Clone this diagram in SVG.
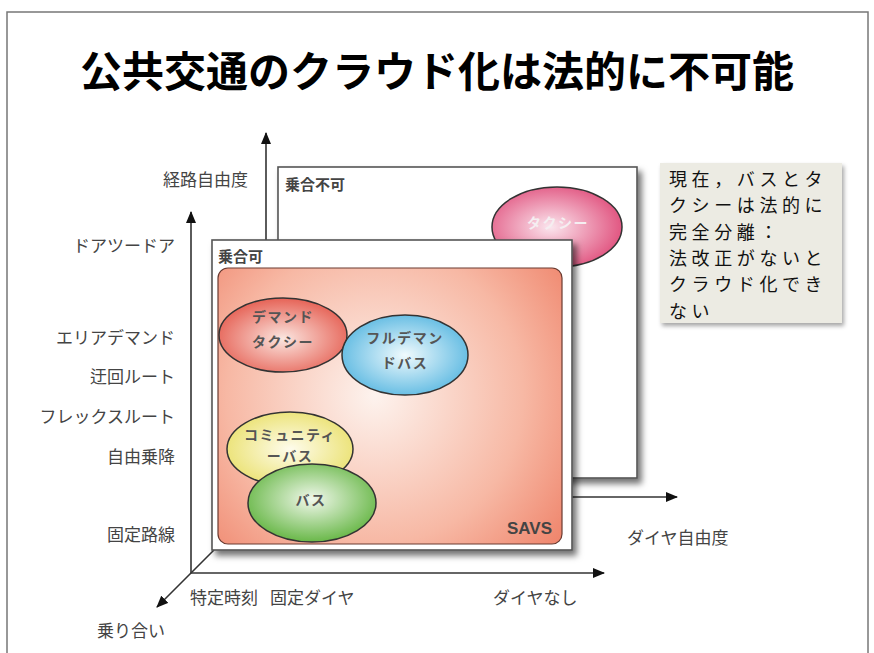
<svg xmlns="http://www.w3.org/2000/svg" width="874" height="653" viewBox="0 0 874 653">
<defs>
<style>
.jp{font-family:"Noto Sans CJK JP","Noto Sans CJK SC",sans-serif}
.lbl{font-family:"Noto Sans CJK JP",sans-serif;font-size:17px;fill:#444}
.ax{stroke:#333;stroke-width:1.6;fill:none}
.panel{fill:#fff;stroke:#555;stroke-width:1.6}
.ell{stroke:#333;stroke-width:1.5}
.et{font-family:"Noto Sans CJK JP",sans-serif;font-size:14px;font-weight:bold;fill:#555;text-anchor:middle;letter-spacing:1.5px}
.note{font-family:"Noto Sans CJK JP",sans-serif;font-size:18px;letter-spacing:4.6px;fill:#111}
</style>
<marker id="arr" markerWidth="12" markerHeight="10" refX="11" refY="5" orient="auto" markerUnits="userSpaceOnUse">
<path d="M0,0 L12,5 L0,10 Z" fill="#111"/>
</marker>
<filter id="sh" x="-10%" y="-10%" width="125%" height="125%">
<feDropShadow dx="4" dy="5" stdDeviation="3" flood-color="#000" flood-opacity="0.55"/>
</filter>
<filter id="sh2" x="-10%" y="-10%" width="125%" height="125%">
<feDropShadow dx="2" dy="3" stdDeviation="2" flood-color="#000" flood-opacity="0.35"/>
</filter>
<radialGradient id="gOrange" gradientUnits="userSpaceOnUse" cx="375" cy="395" r="270">
<stop offset="0" stop-color="#fdf3ee"/>
<stop offset="0.55" stop-color="#f7b8a4"/>
<stop offset="1" stop-color="#ec7156"/>
</radialGradient>
<radialGradient id="gPink" cx="0.45" cy="0.5" r="0.6"><stop offset="0" stop-color="#fbe6ee"/><stop offset="1" stop-color="#df4a78"/></radialGradient>
<radialGradient id="gRed" cx="0.5" cy="0.55" r="0.6"><stop offset="0" stop-color="#fbe6e0"/><stop offset="1" stop-color="#e4574a"/></radialGradient>
<radialGradient id="gBlue" cx="0.5" cy="0.5" r="0.6"><stop offset="0" stop-color="#f0fafd"/><stop offset="1" stop-color="#4fb3df"/></radialGradient>
<radialGradient id="gYellow" cx="0.5" cy="0.5" r="0.6"><stop offset="0" stop-color="#fefcec"/><stop offset="1" stop-color="#e9df66"/></radialGradient>
<radialGradient id="gGreen" cx="0.5" cy="0.45" r="0.6"><stop offset="0" stop-color="#f1f8ec"/><stop offset="1" stop-color="#5db23a"/></radialGradient>
</defs>

<rect x="0" y="0" width="874" height="653" fill="#fff"/>
<rect x="7" y="12" width="861" height="660" fill="#fff" stroke="#777" stroke-width="1.5"/>

<g id="title">
<text x="437" y="87" text-anchor="middle" class="jp" font-size="42" font-weight="bold" fill="#000">公共交通のクラウド化は法的に不可能</text>
</g>

<g id="connectors">
<line class="ax" x1="266" y1="497" x2="266" y2="133" marker-end="url(#arr)"/>
<line class="ax" x1="266" y1="497" x2="677" y2="497" marker-end="url(#arr)"/>
</g>

<g id="panel-back">
<rect class="panel" x="278" y="167" width="359" height="311" filter="url(#sh)"/>
<text x="285" y="190" class="jp" font-size="15" font-weight="bold" fill="#444">乗合不可</text>
</g>

<g id="node-taxi">
<ellipse class="ell" cx="557" cy="227" rx="65" ry="40" fill="url(#gPink)"/>
<text x="558" y="228" class="et" style="fill:#f5eef1">タクシー</text>
</g>

<g id="connectors-front">
<line class="ax" x1="191" y1="573" x2="191" y2="212" marker-end="url(#arr)"/>
<line class="ax" x1="191" y1="573" x2="604" y2="573" marker-end="url(#arr)"/>
<line class="ax" x1="214" y1="550" x2="157" y2="607" marker-end="url(#arr)"/>
</g>

<g id="panel-front">
<rect class="panel" x="212" y="240" width="360" height="310" filter="url(#sh)"/>
<text x="218" y="262" class="jp" font-size="15" font-weight="bold" fill="#444">乗合可</text>
</g>

<g id="node-savs">
<rect x="218" y="268" width="344" height="276" rx="10" fill="url(#gOrange)" stroke="#6a3a30" stroke-width="1.2"/>
<text x="552" y="534" text-anchor="end" font-family="Liberation Sans, Arial, sans-serif" font-size="17" font-weight="bold" fill="#444">SAVS</text>
</g>

<g id="node-demand-taxi">
<ellipse class="ell" cx="283" cy="335" rx="64" ry="37" fill="url(#gRed)"/>
<text x="283" y="322" class="et">デマンド</text>
<text x="283" y="347" class="et">タクシー</text>
</g>

<g id="node-full-demand-bus">
<ellipse class="ell" cx="405" cy="355" rx="63" ry="40" fill="url(#gBlue)"/>
<text x="405" y="343" class="et">フルデマン</text>
<text x="405" y="368" class="et">ドバス</text>
</g>

<g id="node-community-bus">
<ellipse class="ell" cx="290" cy="449" rx="63" ry="37" fill="url(#gYellow)"/>
<text x="290" y="440" class="et">コミュニティ</text>
<text x="290" y="461" class="et">ーバス</text>
</g>

<g id="node-bus">
<ellipse class="ell" cx="312" cy="503" rx="64" ry="39" fill="url(#gGreen)"/>
<text x="311" y="505" class="et">バス</text>
</g>

<g id="axis-labels">
<text x="248" y="186" text-anchor="end" class="lbl">経路自由度</text>
<text x="175" y="252" text-anchor="end" class="lbl">ドアツードア</text>
<text x="175" y="344" text-anchor="end" class="lbl">エリアデマンド</text>
<text x="175" y="383" text-anchor="end" class="lbl">迂回ルート</text>
<text x="175" y="423" text-anchor="end" class="lbl">フレックスルート</text>
<text x="175" y="463" text-anchor="end" class="lbl">自由乗降</text>
<text x="175" y="541" text-anchor="end" class="lbl">固定路線</text>
<text x="190" y="604" class="lbl">特定時刻</text>
<text x="270" y="604" class="lbl">固定ダイヤ</text>
<text x="493" y="604" class="lbl">ダイヤなし</text>
<text x="627" y="544" class="lbl" font-size="19">ダイヤ自由度</text>
<text x="97" y="637" class="lbl" font-size="19">乗り合い</text>
</g>

<g id="note">
<rect x="660" y="163" width="182" height="160" fill="#ecebe3" filter="url(#sh2)"/>
<text class="note" x="669" y="186"><tspan x="669" y="186">現在，バスとタ</tspan><tspan x="669" y="212.3">クシーは法的に</tspan><tspan x="669" y="238.6">完全分離：</tspan><tspan x="669" y="264.9">法改正がないと</tspan><tspan x="669" y="291.2">クラウド化でき</tspan><tspan x="669" y="317.5">ない</tspan></text>
</g>
</svg>
